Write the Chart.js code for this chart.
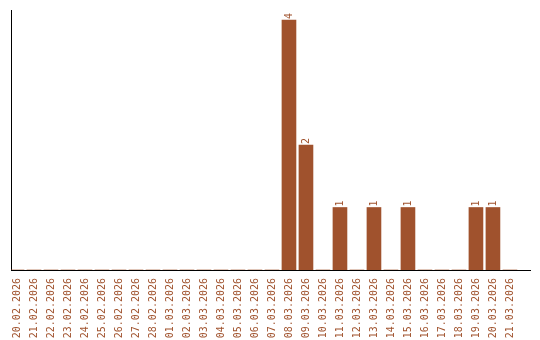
<!DOCTYPE html>
<html>
<head>
<meta charset="utf-8">
<script src="https://cdn.jsdelivr.net/npm/chart.js@4/dist/chart.umd.min.js"></script>
<style>
  html, body { margin: 0; padding: 0; background: #fff; }
  #wrap { width: 540px; height: 340px; }
</style>
</head>
<body>
<div id="wrap"><canvas id="barChart" width="540" height="340"></canvas></div>
<script>
// Dates (categories) and counts
const dates = [
    '20.02.2026', '21.02.2026', '22.02.2026', '23.02.2026', '24.02.2026',
    '25.02.2026', '26.02.2026', '27.02.2026', '28.02.2026', '01.03.2026',
    '02.03.2026', '03.03.2026', '04.03.2026', '05.03.2026', '06.03.2026',
    '07.03.2026', '08.03.2026', '09.03.2026', '10.03.2026', '11.03.2026',
    '12.03.2026', '13.03.2026', '14.03.2026', '15.03.2026', '16.03.2026',
    '17.03.2026', '18.03.2026', '19.03.2026', '20.03.2026', '21.03.2026'
];
const counts = [
    0, 0, 0, 0, 0,
    0, 0, 0, 0, 0,
    0, 0, 0, 0, 0,
    0, 4, 2, 0, 1,
    0, 1, 0, 1, 0,
    0, 0, 1, 1, 0
];

const barColor = '#A0522D';
const labelFont = { family: 'DejaVu Sans Mono', size: 10 };

// Petites etiquettes verticales au-dessus des barres
const valueLabels = {
    id: 'valueLabels',
    afterDatasetsDraw(chart) {
        const ctx = chart.ctx;
        const meta = chart.getDatasetMeta(0);
        meta.data.forEach((bar, i) => {
            if (!counts[i]) return;
            ctx.save();
            ctx.translate(bar.x, bar.y - 1);
            ctx.rotate(-Math.PI / 2);
            ctx.font = '10px "DejaVu Sans Mono"';
            ctx.fillStyle = barColor;
            ctx.textAlign = 'left';
            ctx.textBaseline = 'middle';
            ctx.fillText(String(counts[i]), 0, 0);
            ctx.restore();
        });
    }
};

const ctx = document.getElementById('barChart').getContext('2d');
new Chart(ctx, {
    type: 'bar',
    data: {
        datasets: [{
            data: counts.map((v, i) => ({ x: i, y: v })),
            backgroundColor: barColor,
            borderWidth: 0,
            barThickness: 14
        }]
    },
    options: {
        responsive: false,
        animation: false,
        layout: { padding: { left: 11, top: 10, right: 10, bottom: 0 } },
        plugins: { legend: { display: false }, tooltip: { enabled: false } },
        scales: {
            x: {
                type: 'linear',
                offset: false,
                min: -0.353,
                max: 30.18,
                afterBuildTicks: (axis) => {
                    axis.ticks = dates.map((d, i) => ({ value: i }));
                },
                afterFit: (scale) => {
                    scale.height = 70;
                    scale.paddingLeft = 0;
                    scale.paddingRight = 0;
                },
                grid: { display: false, drawTicks: false },
                border: { display: true, color: '#000', width: 1 },
                ticks: {
                    autoSkip: false,
                    maxRotation: 90,
                    minRotation: 90,
                    padding: 8,
                    color: barColor,
                    font: labelFont,
                    callback: (value) => dates[value]
                }
            },
            y: {
                min: 0,
                max: 4.16,
                afterFit: (scale) => {
                    scale.width = 0;
                },
                grid: { display: false, drawTicks: false },
                border: { display: true, color: '#000', width: 1 },
                ticks: { display: false }
            }
        }
    },
    plugins: [valueLabels]
});
</script>
</body>
</html>
